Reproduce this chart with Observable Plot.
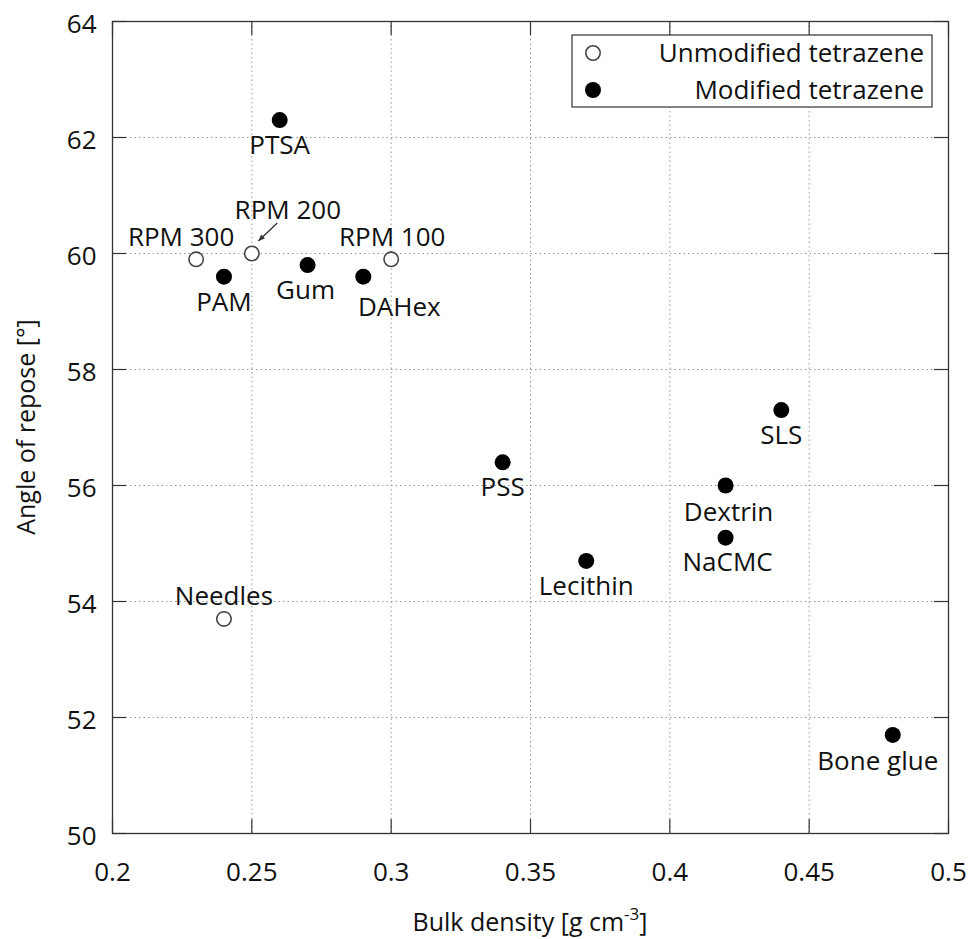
<!DOCTYPE html>
<html><head><meta charset="utf-8">
<script src="https://cdn.jsdelivr.net/npm/d3@7"></script>
<script src="https://cdn.jsdelivr.net/npm/@observablehq/plot@0.6"></script>
<style>body{margin:0;background:#fff} #chart svg{display:block}</style>
</head><body><div id="chart"></div>
<script>
// ---- data ----
const names = ["RPM 300","RPM 200","RPM 100","Needles","PTSA","PAM","Gum","DAHex","PSS","Lecithin","Dextrin","NaCMC","SLS","Bone glue"];
const bulkDensity = [0.23,0.25,0.30,0.24,0.26,0.24,0.27,0.29,0.34,0.37,0.42,0.42,0.44,0.48];
const angleOfRepose = [59.9,60.0,59.9,53.7,62.3,59.6,59.8,59.6,56.4,54.7,56.0,55.1,57.3,51.7];
const group = ["Unmodified","Unmodified","Unmodified","Unmodified","Modified","Modified","Modified","Modified","Modified","Modified","Modified","Modified","Modified","Modified"];
const seriesKeys = ["Unmodified","Modified"];
const seriesNames = ["Unmodified tetrazene","Modified tetrazene"];
const xTicks = [0.2,0.25,0.3,0.35,0.4,0.45,0.5];
const yTicks = [50,52,54,56,58,60,62,64];
const xTitle = "Bulk density [g cm";
const xTitleSup = "-3";
const yTitle = "Angle of repose [°]";

// ---- layout (label offsets in px) ----
const labelOffset = {
  "RPM 300":[-15,-22], "RPM 200":[36,-43], "RPM 100":[1,-22], "Needles":[0,-22],
  "PTSA":[0,26], "PAM":[0,26], "Gum":[-2,26], "DAHex":[36,31], "PSS":[0,25],
  "Lecithin":[0,26], "Dextrin":[3,27], "NaCMC":[2,25], "SLS":[0,26], "Bone glue":[-15,27]
};

const data = names.map((n,i)=>({name:n, x:bulkDensity[i], y:angleOfRepose[i], g:group[i]}));

const W = 971, H = 939, mL = 112, mR = 23, mT = 21, mB = 106;
const pW = W - mL - mR, pH = H - mT - mB;
const FONT = "Open Sans";
const tickLen = 14;

const marks = [
  Plot.gridX(xTicks, {stroke:"#999", strokeOpacity:1, strokeDasharray:"1.5,3"}),
  Plot.gridY(yTicks, {stroke:"#999", strokeOpacity:1, strokeDasharray:"1.5,3"}),
  Plot.ruleX(xTicks, {x:d=>d, insetTop:pH-tickLen, stroke:"#333", strokeWidth:1.2}),
  Plot.ruleX(xTicks, {x:d=>d, insetBottom:pH-tickLen, stroke:"#333", strokeWidth:1.2}),
  Plot.ruleY(yTicks, {y:d=>d, insetRight:pW-tickLen, stroke:"#333", strokeWidth:1.2}),
  Plot.ruleY(yTicks, {y:d=>d, insetLeft:pW-tickLen, stroke:"#333", strokeWidth:1.2}),
  Plot.frame({stroke:"#333", strokeWidth:1.3}),
  Plot.axisX({ticks:xTicks, tickSize:0, tickPadding:29, fontSize:26, tickFormat:d=>String(+d.toFixed(2)), label:null}),
  Plot.axisY({ticks:yTicks, tickSize:0, tickPadding:16, fontSize:26, label:null, dy:3}),
  Plot.dot(data.filter(d=>d.g==="Unmodified"), {x:"x", y:"y", r:7.2, fill:"white", stroke:"#444", strokeWidth:1.6}),
  Plot.dot(data.filter(d=>d.g==="Modified"), {x:"x", y:"y", r:8, fill:"black", stroke:"black", strokeWidth:0}),
  ...data.map(d => Plot.text([d], {x:"x", y:"y", text:"name", dx:labelOffset[d.name][0], dy:labelOffset[d.name][1], fontSize:26, fill:"#111"}))
];

const plot = Plot.plot({
  width:W, height:H, marginLeft:mL, marginRight:mR, marginTop:mT, marginBottom:mB,
  style:{fontFamily:FONT, color:"#111", background:"white"},
  x:{domain:[0.2,0.5]}, y:{domain:[50,64]},
  marks
});
document.getElementById("chart").appendChild(plot);

const svg = d3.select(plot);
const sx = plot.scale("x"), sy = plot.scale("y");

// arrow for RPM 200
const rpm = data.find(d=>d.name==="RPM 200");
const px = sx.apply(rpm.x), py = sy.apply(rpm.y);
const x1 = px+26, y1 = py-30, x2 = px+7, y2 = py-12;
svg.append("line").attr("x1",x1).attr("y1",y1).attr("x2",x2).attr("y2",y2).attr("stroke","#333").attr("stroke-width",1.3);
const ang = Math.atan2(y2-y1, x2-x1), hl = 7, hw = 0.4;
svg.append("path").attr("d", `M${x2},${y2}L${x2-hl*Math.cos(ang-hw)},${y2-hl*Math.sin(ang-hw)}L${x2-hl*Math.cos(ang+hw)},${y2-hl*Math.sin(ang+hw)}Z`).attr("fill","#333");

// legend
const lgW = 360, lgH = 72;
const lgX = W - mR - 16 - lgW, lgY = mT + 14;
const lg = svg.append("g").attr("font-family",FONT).attr("font-size",26);
lg.append("rect").attr("x",lgX).attr("y",lgY).attr("width",lgW).attr("height",lgH).attr("fill","white").attr("stroke","#333").attr("stroke-width",1.2);
seriesKeys.forEach((k,i)=>{
  const cy = lgY + 18 + i*37;
  lg.append("circle").attr("cx",lgX+21).attr("cy",cy).attr("r", k==="Modified"?8:7.2)
    .attr("fill", k==="Modified"?"black":"white").attr("stroke", k==="Modified"?"none":"#444").attr("stroke-width",1.6);
  lg.append("text").attr("x",lgX+lgW-8).attr("y",cy).attr("dy","0.35em").attr("text-anchor","end").attr("fill","#111").text(seriesNames[i]);
});

// axis titles
const xt = svg.append("text").attr("x", mL+pW/2).attr("y", 931).attr("text-anchor","middle")
  .attr("font-family",FONT).attr("font-size",25).attr("fill","#111");
xt.append("tspan").text(xTitle);
xt.append("tspan").attr("dy",-11).attr("font-size",17).text(xTitleSup);
xt.append("tspan").attr("dy",11).text("]");
svg.append("text").attr("transform",`translate(35,${mT+pH/2}) rotate(-90)`).attr("text-anchor","middle")
  .attr("font-family",FONT).attr("font-size",25).attr("fill","#111").text(yTitle);
</script>
</body></html>
